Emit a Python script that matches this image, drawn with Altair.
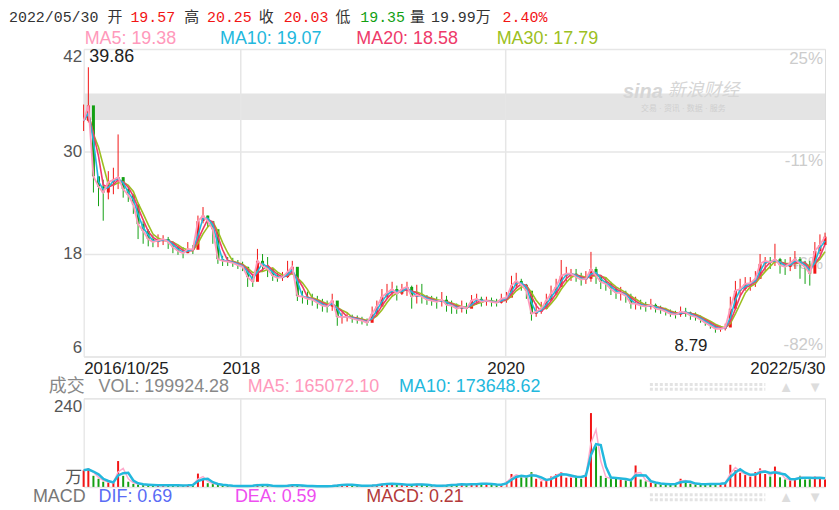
import altair as alt
import pandas as pd

# ---------------- data ----------------
start_date = "2016-10-25"
end_date = "2022-05-30"

close = [33.6, 35.4, 27.1, 25.9, 25.2, 26.4, 26.7, 27.0, 25.6, 24.9,
         23.8, 21.5, 20.7, 19.75, 19.4, 19.6, 19.75, 19.4, 18.8, 18.35,
         18.1, 18.6, 18.5, 21.85, 22.5, 21.85, 20.9, 17.4, 17.2, 17.1,
         16.95, 16.7, 16.5, 15.3, 14.75, 17.2, 16.6, 16.25, 15.45, 15.2,
         15.3, 15.9, 16.5, 13.1, 13.0, 12.75, 12.65, 12.3, 11.95, 11.85,
         12.55, 10.65, 10.65, 10.65, 10.45, 10.3, 10.2, 9.95, 11.0, 11.85,
         13.0, 13.45, 13.9, 13.35, 13.9, 14.15, 13.0, 13.2, 13.0, 12.65,
         12.55, 12.4, 12.65, 12.05, 11.95, 11.6, 11.85, 11.6, 12.55, 12.75,
         12.4, 12.55, 12.4, 12.3, 12.75, 12.9, 14.3, 14.85, 14.4, 13.7,
         11.0, 11.25, 11.6, 12.55, 13.35, 14.15, 15.45, 15.7, 15.7, 15.3,
         15.0, 15.1, 16.25, 15.45, 14.75, 14.5, 13.9, 13.45, 13.45, 13.1,
         12.2, 12.2, 11.95, 11.85, 12.05, 11.6, 11.5, 11.25, 11.0, 10.9,
         11.25, 11.15, 10.8, 10.65, 10.3, 9.95, 9.6, 9.25, 9.25, 9.4,
         11.6, 13.7, 13.9, 14.5, 14.6, 15.1, 16.85, 17.2, 17.05, 17.4,
         16.7, 16.5, 16.95, 17.4, 16.85, 16.5, 15.7, 18.35, 19.05, 20.03]

high = [35.5, 39.86, 30.6, 26.7, 26.7, 27.7, 28.1, 32.0, 27.0, 25.8,
        25.0, 23.0, 21.85, 20.9, 20.2, 20.3, 20.2, 20.0, 19.5, 18.9,
        18.8, 19.4, 19.05, 22.5, 23.5, 22.5, 21.85, 19.2, 17.8, 17.65,
        17.55, 17.3, 17.1, 16.5, 15.55, 18.6, 18.0, 17.65, 16.0, 15.8,
        15.9, 17.2, 17.2, 15.7, 13.7, 13.6, 13.35, 13.1, 12.75, 12.55,
        13.35, 12.2, 11.15, 11.15, 10.9, 10.8, 10.65, 10.45, 11.85, 12.55,
        13.9, 14.5, 14.75, 14.3, 14.5, 14.75, 14.3, 14.4, 14.5, 13.2,
        13.1, 13.0, 13.55, 13.1, 12.55, 12.2, 12.55, 12.3, 13.2, 13.35,
        13.0, 13.0, 12.9, 12.75, 13.35, 13.55, 15.45, 15.8, 15.1, 14.5,
        12.75, 12.2, 12.4, 13.35, 14.3, 15.1, 17.3, 16.5, 16.25, 16.25,
        15.8, 16.0, 18.25, 16.5, 15.55, 15.3, 14.75, 14.15, 14.15, 13.7,
        13.35, 13.0, 12.65, 12.4, 12.75, 12.2, 11.95, 11.7, 11.5, 11.35,
        11.85, 11.7, 11.25, 11.15, 10.8, 10.45, 10.1, 9.75, 9.6, 9.85,
        13.0, 14.85, 15.1, 15.3, 15.3, 16.0, 18.0, 17.65, 17.65, 19.2,
        17.55, 17.4, 17.65, 18.35, 17.65, 17.2, 17.2, 19.4, 20.3, 20.5]

low = [32.4, 33.4, 25.2, 23.6, 21.9, 24.4, 25.0, 25.6, 24.6, 24.1,
       22.7, 19.75, 19.2, 18.9, 18.8, 18.8, 19.05, 18.6, 18.1, 17.9,
       17.5, 18.1, 18.0, 18.6, 21.6, 21.15, 19.2, 16.85, 16.6, 16.6,
       16.5, 16.25, 16.0, 14.15, 14.15, 15.1, 15.9, 15.3, 14.85, 14.75,
       14.85, 15.2, 15.55, 12.5, 12.2, 12.05, 11.95, 11.6, 11.25, 11.15,
       11.35, 9.6, 9.85, 10.1, 9.95, 9.85, 9.75, 9.6, 10.2, 11.0,
       12.2, 12.75, 13.0, 12.55, 13.2, 13.1, 11.6, 12.2, 12.2, 12.05,
       11.95, 11.6, 11.85, 11.25, 11.0, 11.0, 11.15, 11.0, 11.85, 12.05,
       11.85, 11.95, 11.85, 11.85, 12.2, 12.3, 13.35, 13.9, 13.7, 12.75,
       10.2, 10.65, 11.0, 11.6, 12.55, 13.2, 14.15, 14.75, 14.85, 14.75,
       14.3, 14.5, 14.75, 14.5, 13.9, 13.7, 13.2, 12.75, 12.55, 12.3,
       11.6, 11.5, 11.5, 11.25, 11.5, 11.15, 11.0, 10.8, 10.65, 10.45,
       10.65, 10.65, 10.3, 10.2, 9.95, 9.6, 9.25, 8.79, 8.9, 9.05,
       9.85, 12.2, 13.0, 13.7, 13.7, 14.15, 15.7, 16.0, 16.25, 16.6,
       15.7, 15.55, 16.0, 16.25, 15.1, 14.5, 14.3, 16.85, 18.0, 19.1]

# volume in 万
volume = [45, 50, 30, 22, 14, 12, 11, 70, 30, 14,
          8, 7, 6, 5, 5, 4, 4, 5, 4, 4,
          4, 5, 6, 36, 20, 10, 8, 6, 4, 3,
          3, 2, 3, 3, 3, 8, 4, 3, 3, 2,
          3, 5, 6, 3, 3, 2, 2, 2, 2, 2,
          4, 5, 7, 6, 4, 3, 3, 3, 5, 6,
          8, 9, 8, 7, 6, 5, 6, 8, 6, 4,
          3, 3, 4, 5, 7, 6, 8, 5, 9, 7,
          10, 8, 6, 5, 7, 16, 35, 30, 26, 28,
          40, 22, 15, 20, 28, 35, 40, 25, 28, 30,
          22, 38, 200, 110, 30, 24, 22, 26, 20, 18,
          16, 58, 20, 15, 12, 9, 7, 8, 6, 10,
          22, 12, 8, 7, 8, 7, 8, 9, 8, 12,
          60, 45, 38, 32, 28, 40, 50, 35, 28, 55,
          26, 20, 18, 24, 30, 20, 24, 28, 22, 19.99]

price_ticks = [6, 18, 30, 42]
pct_labels = ["-82%", "-46%", "-11%", "25%"]
x_tick_dates = ["2016-10-25", "2018-01-01", "2020-01-01", "2022-05-30"]
x_tick_labels = ["2016/10/25", "2018", "2020", "2022/5/30"]
grid_dates = ["2018-01-01", "2020-01-01"]
band_low, band_high = 33.7, 36.8
vol_ticks = [0, 240]

quote_texts = ["2022/05/30", "开", "19.57", "高", "20.25", "收", "20.03",
               "低", "19.35", "量", "19.99万", "2.40%"]
ma_texts = ["MA5: 19.38", "MA10: 19.07", "MA20: 18.58", "MA30: 17.79"]
vol_texts = ["成交", "VOL: 199924.28", "MA5: 165072.10", "MA10: 173648.62"]
macd_texts = ["MACD", "DIF: 0.69", "DEA: 0.59", "MACD: 0.21"]

# ---------------- styles / layout ----------------
RED = "#f21515"
GREEN = "#13a013"
DARK = "#333333"
GREY = "#888888"
C_MA5 = "#ff99bb"
C_MA10 = "#22b8dd"
C_MA20 = "#ee3a6a"
C_MA30 = "#9cbf22"
GRID = "#e6e6e6"
SANS = "Liberation Sans, Noto Sans CJK SC"
MONO = "Liberation Mono, Noto Sans CJK SC"

W, H_PRICE, H_VOL = 745, 309, 89

quote_x = [-75, 24, 47, 101, 124, 176, 201, 253, 278, 328, 349, 421]
quote_colors = [DARK, DARK, RED, DARK, RED, DARK, RED, DARK, GREEN, DARK, DARK, RED]
ma_x = [1, 137, 274, 415]
ma_colors = [C_MA5, C_MA10, C_MA20, C_MA30]
vol_x = [-35, 15, 165, 317]
vol_colors = [GREY, GREY, C_MA5, C_MA10]
macd_x = [-51, 15, 152, 284]
macd_colors = ["#777777", "#5a6cf5", "#ee4ef0", "#b33a3a"]


def ms(d):
    return int(pd.Timestamp(d).value // 10**6)


dates = [d.strftime("%Y-%m-%d") for d in pd.date_range(start_date, end_date, periods=len(close))]
df = pd.DataFrame({"date": dates, "close": close, "high": high, "low": low, "vol": volume})
one = pd.DataFrame({"k": [0]})

xscale = alt.Scale(domain=[ms(start_date), ms(end_date)], padding=0)
yscale = alt.Scale(domain=[6, 42], nice=False, zero=False, padding=0)
vscale = alt.Scale(domain=[0, 240], nice=False, padding=0)

label_expr = "utcFormat(datum.value, '%Y')"
for d, lab in zip(x_tick_dates, x_tick_labels):
    label_expr = f"time(datum.value) == {ms(d)} ? '{lab}' : " + label_expr

xaxis = alt.Axis(values=[ms(d) for d in x_tick_dates], labelExpr=label_expr, title=None,
                 domain=False, ticks=False, grid=False, labelFlush=True, labelOverlap=False,
                 labelFontSize=17, labelColor="#222222", labelPadding=4, labelFont=SANS)
yaxis = alt.Axis(values=price_ticks, title=None, domain=False, ticks=False, labelFlush=True,
                 labelFontSize=17, labelColor="#555555", labelPadding=2, labelFont=SANS,
                 grid=True, gridColor=GRID, gridWidth=1.5)
vaxis = alt.Axis(values=vol_ticks, title=None, domain=False, ticks=False, labelFlush=True,
                 labelExpr="datum.value == 0 ? '万' : datum.label",
                 labelFontSize=17, labelColor="#555555", labelPadding=2, labelFont=SANS,
                 grid=True, gridColor=GRID, gridWidth=1.5)

XP = alt.X("date:T", scale=xscale, axis=xaxis)     # price panel x
XV = alt.X("date:T", scale=xscale, axis=None)      # volume panel x


def YP(field):
    return alt.Y(field, scale=yscale, axis=yaxis)


def YV(field):
    return alt.Y(field, scale=vscale, axis=vaxis)


up = alt.condition("datum.close >= datum.open", alt.value(RED), alt.value(GREEN))


def with_open(chart):
    return chart.transform_window(
        window=[{"op": "lag", "field": "close", "param": 1, "as": "prev"}],
        sort=[{"field": "date"}],
    ).transform_calculate(open="isValid(datum.prev) ? datum.prev : datum.close")


def txt(text, x, y, color, size=18, font=SANS, align="left", **kw):
    return alt.Chart(one).mark_text(text=text, align=align, baseline="middle", fontSize=size,
                                    font=font, color=color, **kw).encode(
        x=alt.value(x), y=alt.value(y))


def hrule(x1, x2, y, color="#e3e3e3"):
    return alt.Chart(one).mark_rule(color=color, strokeWidth=3, strokeDash=[3, 2]).encode(
        x=alt.value(x1), x2=alt.value(x2), y=alt.value(y))


# ---------------- price panel ----------------
band_layer = alt.Chart(pd.DataFrame({"date": [start_date], "x1": [end_date],
                                     "lo": [band_low], "hi": [band_high]})).mark_rect(
    color="#e4e4e4").encode(x=XP, x2="x1:T", y=YP("lo:Q"), y2="hi:Q")

grid_df = pd.DataFrame({"date": grid_dates})
grid_p = alt.Chart(grid_df).mark_rule(color=GRID, strokeWidth=1.5).encode(x=XP)
grid_v = alt.Chart(grid_df).mark_rule(color=GRID, strokeWidth=1.5).encode(x=XV)

pct_df = pd.DataFrame({"v": price_ticks, "t": pct_labels})
pct_top = alt.Chart(pct_df).transform_filter("datum.v > 6").mark_text(
    align="right", baseline="top", dy=2, fontSize=17, color="#cccccc", font=SANS).encode(
    x=alt.value(W - 2), y=YP("v:Q"), text="t:N")
pct_bot = alt.Chart(pct_df).transform_filter("datum.v <= 6").mark_text(
    align="right", baseline="bottom", dy=-3, fontSize=17, color="#cccccc", font=SANS).encode(
    x=alt.value(W - 2), y=YP("v:Q"), text="t:N")

wm = [
    txt("sina", 542, 43, "#d6d6d6", size=20, fontStyle="italic", fontWeight="bold"),
    txt("新浪财经", 587, 42, "#d6d6d6", size=18, fontStyle="italic"),
    txt("交易 · 资讯 · 数据 · 服务", 560, 60, "#cfcfcf", size=8),
]

wick = with_open(alt.Chart(df)).mark_rule(strokeWidth=1).encode(
    x=XP, y=YP("low:Q"), y2="high:Q", color=up)
body = with_open(alt.Chart(df)).mark_bar(size=3).encode(
    x=XP, y=YP("open:Q"), y2="close:Q", color=up)

ma_base = alt.Chart(df).transform_window(
    ma5="mean(close)", frame=[0, 0], sort=[{"field": "date"}]).transform_window(
    ma10="mean(close)", frame=[-1, 0], sort=[{"field": "date"}]).transform_window(
    ma20="mean(close)", frame=[-2, 0], sort=[{"field": "date"}]).transform_window(
    ma30="mean(close)", frame=[-3, 0], sort=[{"field": "date"}])


def ma_line(field, color, w=1.6):
    return ma_base.mark_line(color=color, strokeWidth=w).encode(x=XP, y=YP(f"{field}:Q"))


imax = high.index(max(high))
imin = low.index(min(low))
max_lab = alt.Chart(pd.DataFrame({"date": [dates[imax]], "v": [high[imax]]})).mark_text(
    align="left", baseline="alphabetic", dx=1, dy=-5, fontSize=18, color="#222222", font=SANS).encode(
    x=XP, y=YP("v:Q"), text=alt.Text("v:Q", format=".2f"))
min_lab = alt.Chart(pd.DataFrame({"date": [dates[imin]], "v": [low[imin]]})).mark_text(
    align="right", baseline="alphabetic", dx=-8, dy=18, fontSize=17, color="#222222", font=SANS).encode(
    x=XP, y=YP("v:Q"), text=alt.Text("v:Q", format=".2f"))

headers = [txt(t, x, -32, c, size=15, font=MONO) for t, x, c in zip(quote_texts, quote_x, quote_colors)]
headers += [txt(t, x, -10, c, size=18) for t, x, c in zip(ma_texts, ma_x, ma_colors)]

price = alt.layer(
    band_layer, grid_p, pct_top, pct_bot, *wm, wick, body,
    ma_line("ma30", C_MA30), ma_line("ma20", C_MA20), ma_line("ma10", C_MA10),
    ma_line("ma5", C_MA5, 1.8), max_lab, min_lab, *headers,
).properties(width=W, height=H_PRICE)

# ---------------- volume panel ----------------
vol_bars = with_open(alt.Chart(df)).mark_bar(size=2).encode(
    x=XV, y=YV("vol:Q"), color=up)
vol_ma = alt.Chart(df).transform_window(
    vma5="mean(vol)", frame=[-1, 0], sort=[{"field": "date"}]).transform_window(
    vma10="mean(vol)", frame=[-2, 0], sort=[{"field": "date"}])
vma5 = vol_ma.mark_line(color="#ffaacc", strokeWidth=1.5).encode(x=XV, y=YV("vma5:Q"))
vma10 = vol_ma.mark_line(color=C_MA10, strokeWidth=2.5).encode(x=XV, y=YV("vma10:Q"))

vol_text = [txt(t, x, -11, c) for t, x, c in zip(vol_texts, vol_x, vol_colors)]
macd_text = [txt(t, x, 99, c) for t, x, c in zip(macd_texts, macd_x, macd_colors)]
controls = [
    hrule(569, 685, -14), hrule(569, 685, -9),
    txt("▲", 706, -11, "#dddddd", size=15, align="center"),
    txt("▼", 735, -11, "#dddddd", size=15, align="center"),
    hrule(569, 685, 97), hrule(569, 685, 102),
    txt("▲", 706, 99, "#dddddd", size=15, align="center"),
    txt("▼", 735, 99, "#dddddd", size=15, align="center"),
]

vol = alt.layer(vol_bars, grid_v, vma5, vma10, *vol_text, *macd_text, *controls).properties(
    width=W, height=H_VOL)

chart = alt.vconcat(price, vol, spacing=42, bounds="flush").properties(
    padding=0
).configure_view(stroke=None).configure(font="Liberation Sans")

chart.save("out.html", embed_options={"renderer": "svg", "actions": False})
